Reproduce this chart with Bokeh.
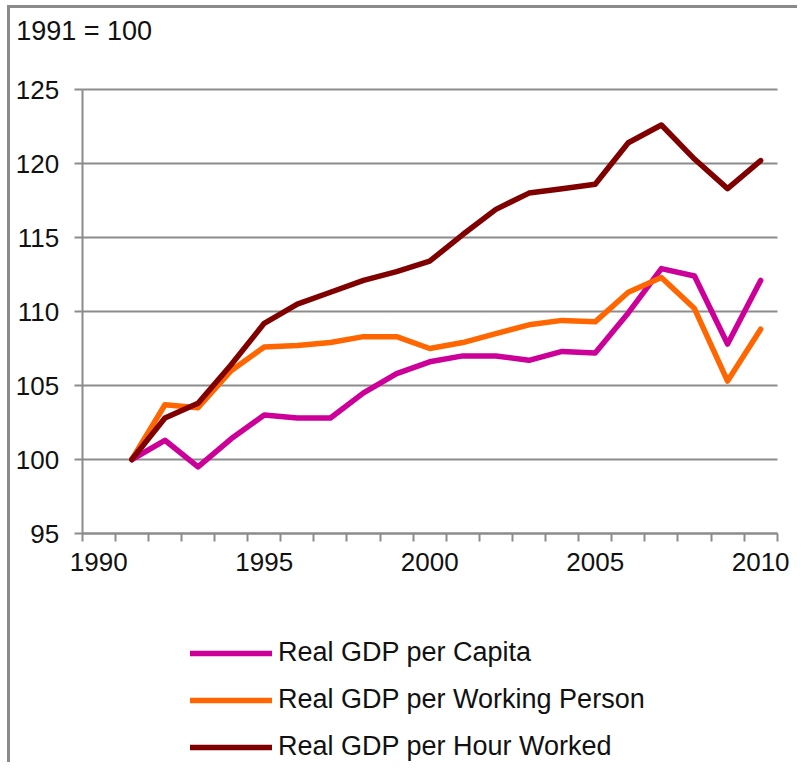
from bokeh.plotting import figure
from bokeh.models import Range1d, FixedTicker, Legend, LegendItem, Label
from bokeh.embed import file_html
from bokeh.resources import INLINE

years = list(range(1991, 2011))
per_capita = [100.0, 101.3, 99.5, 101.4, 103.0, 102.8, 102.8, 104.5, 105.8, 106.6,
              107.0, 107.0, 106.7, 107.3, 107.2, 109.9, 112.9, 112.4, 107.8, 112.1]
per_worker = [100.0, 103.7, 103.5, 106.0, 107.6, 107.7, 107.9, 108.3, 108.3, 107.5,
              107.9, 108.5, 109.1, 109.4, 109.3, 111.3, 112.3, 110.2, 105.3, 108.8]
per_hour = [100.0, 102.8, 103.8, 106.4, 109.2, 110.5, 111.3, 112.1, 112.7, 113.4,
            115.2, 116.9, 118.0, 118.3, 118.6, 121.4, 122.6, 120.3, 118.3, 120.2]
series_names = ["Real GDP per Capita", "Real GDP per Working Person", "Real GDP per Hour Worked"]
series_colors = ["#cc0099", "#ff6600", "#800000"]
x_labels = [1990, 1995, 2000, 2005, 2010]
y_ticks = [95, 100, 105, 110, 115, 120, 125]
base_label = "1991 = 100"

GRAY = "#8c8c8c"
FONT = "Liberation Sans"

# ---- layout geometry (canvas pixels) ----
W, H = 790, 757                 # canvas size
PLOT_L, PLOT_R = 71.7, 766.7    # where the chart area (axes box) sits inside the canvas
PLOT_T, PLOT_B = 81.0, 525.0
XLO, XHI = x_labels[0] - 0.5, x_labels[-1] + 0.5
YLO, YHI = y_ticks[0], y_ticks[-1]
sx = (PLOT_R - PLOT_L) / (XHI - XLO)
sy = (PLOT_B - PLOT_T) / (YHI - YLO)
x_range = Range1d(XLO - PLOT_L / sx, XHI + (W - PLOT_R) / sx)
y_range = Range1d(YLO - (H - PLOT_B) / sy, YHI + PLOT_T / sy)

p = figure(width=W, height=H, output_backend="svg", toolbar_location=None,
           x_range=x_range, y_range=y_range,
           min_border=0, min_border_left=0, min_border_right=0,
           min_border_top=0, min_border_bottom=0)
p.styles = {"border-top": "3px solid #8a8a8a", "border-left": "3px solid #8a8a8a",
            "margin-left": "7px", "margin-top": "5px"}
p.outline_line_color = None
p.background_fill_color = "white"
p.border_fill_color = "white"

renderers = []
for vals, col in zip([per_capita, per_worker, per_hour], series_colors):
    r = p.line(years, vals, line_color=col, line_width=5.5, line_join="round", line_cap="round")
    renderers.append(r)

# x axis
p.xaxis.fixed_location = YLO
p.xaxis.bounds = (XLO, XHI)
p.xaxis.ticker = FixedTicker(ticks=x_labels, minor_ticks=[v - 0.5 for v in range(x_labels[0], x_labels[-1] + 2)])
p.xaxis.major_tick_line_color = None
p.xaxis.major_tick_out = 8
p.xaxis.major_tick_in = 0
p.xaxis.minor_tick_line_color = GRAY
p.xaxis.minor_tick_line_width = 2
p.xaxis.minor_tick_out = 8
p.xaxis.minor_tick_in = 0
p.xaxis.major_label_standoff = 11

# y axis
p.yaxis.fixed_location = XLO
p.yaxis.bounds = (YLO, YHI)
p.yaxis.ticker = FixedTicker(ticks=y_ticks)
p.yaxis.major_tick_out = 8
p.yaxis.major_tick_in = 0
p.yaxis.major_tick_line_color = GRAY
p.yaxis.major_tick_line_width = 2
p.yaxis.minor_tick_line_color = None
p.yaxis.major_label_standoff = 15

for ax in (p.xaxis, p.yaxis):
    ax.axis_line_color = GRAY
    ax.axis_line_width = 2
    ax.major_label_text_font = FONT
    ax.major_label_text_font_size = "26px"
    ax.major_label_text_color = "#111111"

p.xgrid.grid_line_color = None
p.ygrid.grid_line_color = GRAY
p.ygrid.grid_line_width = 2
p.ygrid.ticker = FixedTicker(ticks=y_ticks)
p.ygrid.cross_bounds = (XLO, XHI)

# "1991 = 100" note above the chart
p.add_layout(Label(x=XLO, y=YHI, x_offset=-66, y_offset=59, text=base_label,
                   text_font=FONT, text_font_size="27px", text_color="#111111",
                   text_baseline="alphabetic", text_align="left"))

legend = Legend(items=[LegendItem(label=n, renderers=[r]) for n, r in zip(series_names, renderers)],
                location=(180, 3))
legend.padding = 0
legend.margin = 0
legend.spacing = 16
legend.glyph_width = 82
legend.glyph_height = 30
legend.label_height = 30
legend.label_standoff = 6
legend.border_line_color = None
legend.background_fill_alpha = 0
legend.label_text_font = FONT
legend.label_text_font_size = "27px"
legend.label_text_color = "#111111"
p.add_layout(legend, "center")

open("out.html", "w").write(file_html(p, INLINE))
